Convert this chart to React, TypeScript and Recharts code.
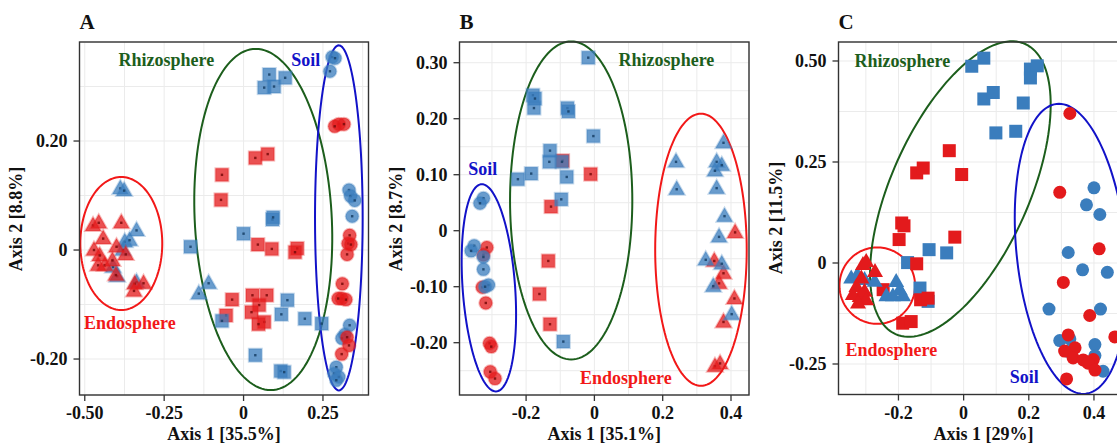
import React from "react";
import {
  ScatterChart, Scatter, XAxis, YAxis, CartesianGrid, ReferenceArea, ReferenceDot
} from "recharts";

type Pt = [number, number];
type Ell = { c: Pt; u: Pt; v: Pt };

// ---- panel A ----
const aRedTri: Pt[] = [[-0.474,0.045],[-0.456,0.050],[-0.385,0.050],[-0.442,0.021],[-0.471,0.000],[-0.453,-0.010],[-0.458,-0.028],[-0.437,-0.028],[-0.413,-0.019],[-0.371,-0.008],[-0.400,0.006],[-0.402,-0.046],[-0.343,-0.062],[-0.315,-0.061],[-0.345,-0.075]];
const aBlueTri: Pt[] = [[-0.388,0.113],[-0.376,0.109],[-0.337,0.036],[-0.374,0.015],[-0.359,0.018],[-0.380,0.000],[-0.411,-0.031],[-0.398,-0.048],[-0.337,-0.059],[-0.110,-0.061],[-0.141,-0.080]];
const aRedSq: Pt[] = [[0.037,0.169],[0.076,0.176],[-0.068,0.138],[-0.071,0.092],[0.045,0.010],[0.089,0.002],[0.169,0.003],[0.162,-0.004],[-0.036,-0.091],[0.028,-0.083],[0.073,-0.083],[0.049,-0.101],[0.025,-0.114],[-0.055,-0.120],[0.065,-0.132],[0.047,-0.136]];
const aBlueSq: Pt[] = [[0.081,0.322],[0.131,0.316],[0.065,0.298],[0.096,0.300],[0.091,0.056],[0.093,0.060],[0.000,0.030],[-0.167,0.006],[0.138,-0.092],[0.119,-0.118],[0.193,-0.126],[0.246,-0.135],[-0.068,-0.130],[0.037,-0.193],[0.117,-0.222],[0.128,-0.224]];
const aRedCirc: Pt[] = [[0.300,0.231],[0.287,0.227],[0.316,0.231],[0.334,0.027],[0.329,0.012],[0.338,0.010],[0.326,-0.008],[0.311,-0.062],[0.309,-0.089],[0.322,-0.091],[0.298,-0.089],[0.326,-0.160],[0.332,-0.175],[0.309,-0.191]];
const aBlueCirc: Pt[] = [[0.279,0.354],[0.288,0.352],[0.272,0.328],[0.332,0.110],[0.337,0.099],[0.350,0.091],[0.342,0.062],[0.334,-0.138],[0.319,-0.155],[0.310,-0.162],[0.292,-0.215],[0.285,-0.227],[0.300,-0.233],[0.292,-0.239]];
const aXTicks = [-0.5, -0.375, -0.25, -0.125, 0, 0.125, 0.25, 0.375];
const aXMajor = [-0.5, -0.25, 0, 0.25];
const aXLabels = ["-0.50", "-0.25", "0", "0.25"];
const aYTicks = [-0.2, -0.1, 0, 0.1, 0.2, 0.3];
const aYMajor = [-0.2, 0, 0.2];
const aYLabels = ["-0.20", "0", "0.20"];

// ---- panel B ----
const bRedSq: Pt[] = [[-0.093,0.125],[-0.011,0.101],[-0.127,0.043],[-0.135,-0.054],[-0.161,-0.113],[-0.130,-0.167]];
const bBlueSq: Pt[] = [[-0.018,0.309],[-0.180,0.242],[-0.174,0.236],[-0.177,0.219],[-0.079,0.219],[-0.076,0.213],[-0.003,0.169],[-0.130,0.143],[-0.132,0.123],[-0.095,0.123],[-0.185,0.102],[-0.224,0.092],[-0.081,0.096],[-0.097,0.056],[-0.091,-0.198]];
const bRedCirc: Pt[] = [[-0.315,-0.030],[-0.325,-0.043],[-0.328,-0.101],[-0.318,-0.129],[-0.307,-0.201],[-0.302,-0.207],[-0.305,-0.252],[-0.291,-0.264]];
const bBlueCirc: Pt[] = [[-0.325,0.058],[-0.335,0.049],[-0.352,-0.027],[-0.361,-0.036],[-0.325,-0.047],[-0.325,-0.069],[-0.310,-0.097],[-0.320,-0.100]];
const bRedTri: Pt[] = [[0.412,-0.003],[0.351,-0.054],[0.378,-0.076],[0.365,-0.094],[0.410,-0.121],[0.378,-0.163],[0.353,-0.242],[0.368,-0.237]];
const bBlueTri: Pt[] = [[0.378,0.157],[0.239,0.123],[0.241,0.074],[0.358,0.123],[0.373,0.117],[0.353,0.107],[0.358,0.076],[0.381,0.026],[0.365,-0.011],[0.326,-0.052],[0.373,-0.059],[0.348,-0.099],[0.402,-0.149]];
const bXTicks = [-0.3, -0.2, -0.1, 0, 0.1, 0.2, 0.3, 0.4];
const bXMajor = [-0.2, 0, 0.2, 0.4];
const bXLabels = ["-0.2", "0", "0.2", "0.4"];
const bYTicks = [-0.25, -0.2, -0.15, -0.1, -0.05, 0, 0.05, 0.1, 0.15, 0.2, 0.25, 0.3];
const bYMajor = [-0.2, -0.1, 0, 0.1, 0.2, 0.3];
const bYLabels = ["-0.20", "-0.10", "0", "0.10", "0.20", "0.30"];

// ---- panel C ----
const cBlueSq: Pt[] = [[0.025,0.487],[0.062,0.507],[0.205,0.480],[0.226,0.488],[0.205,0.458],[0.062,0.406],[0.091,0.422],[0.183,0.396],[0.099,0.322],[0.160,0.326],[-0.106,0.033],[-0.052,0.025],[-0.172,0.001],[-0.134,-0.062],[-0.109,-0.095]];
const cRedSq: Pt[] = [[-0.044,0.278],[-0.144,0.223],[-0.124,0.235],[-0.006,0.219],[-0.190,0.099],[-0.183,0.092],[-0.198,0.058],[-0.027,0.064],[-0.144,-0.002],[-0.247,-0.066],[-0.132,-0.091],[-0.109,-0.087],[-0.187,-0.149],[-0.161,-0.145]];
const cBlueTri: Pt[] = [[-0.345,-0.037],[-0.326,-0.029],[-0.304,-0.041],[-0.273,-0.045],[-0.237,-0.081],[-0.207,-0.046],[-0.196,-0.066],[-0.217,-0.081],[-0.186,-0.081]];
const cRedTri: Pt[] = [[-0.309,-0.004],[-0.299,0.004],[-0.272,-0.021],[-0.329,-0.058],[-0.319,-0.083],[-0.340,-0.078],[-0.304,-0.070],[-0.299,-0.091],[-0.324,-0.099],[-0.314,-0.037]];
const cBlueCirc: Pt[] = [[0.400,0.186],[0.377,0.144],[0.418,0.120],[0.321,0.026],[0.365,-0.017],[0.441,-0.023],[0.262,-0.114],[0.420,-0.114],[0.295,-0.192],[0.326,-0.188],[0.403,-0.202],[0.321,-0.219],[0.403,-0.229],[0.428,-0.268]];
const cRedCirc: Pt[] = [[0.326,0.370],[0.295,0.175],[0.416,0.035],[0.306,-0.048],[0.387,-0.130],[0.464,-0.183],[0.321,-0.178],[0.342,-0.210],[0.310,-0.218],[0.336,-0.235],[0.367,-0.240],[0.398,-0.239],[0.382,-0.248],[0.403,-0.265],[0.316,-0.287]];
const cXTicks = [-0.3, -0.2, -0.1, 0, 0.1, 0.2, 0.3, 0.4, 0.5];
const cXMajor = [-0.2, 0, 0.2, 0.4];
const cXLabels = ["-0.2", "0", "0.2", "0.4"];
const cYTicks = [-0.25, -0.125, 0, 0.125, 0.25, 0.375, 0.5];
const cYMajor = [-0.25, 0, 0.25, 0.5];
const cYLabels = ["-0.25", "0", "0.25", "0.50"];

// confidence ellipses: centre + two conjugate half-axes (data units)
const aEllipses: Ell[] = [
  { c: [-0.385, 0.012], u: [0, 0.122], v: [0.129, 0] },
  { c: [0.062, 0.056], u: [-0.0235, 0.313], v: [0.216, 0] },
  { c: [0.300, 0.059], u: [0, 0.3165], v: [0.075, 0] },
];
const bEllipses: Ell[] = [
  { c: [-0.309, -0.102], u: [-0.0205, 0.185], v: [0.077, 0] },
  { c: [-0.068, 0.054], u: [0, 0.284], v: [0.179, 0] },
  { c: [0.312, -0.034], u: [0, 0.243], v: [0.134, 0] },
];
const cEllipses: Ell[] = [
  { c: [-0.265, -0.056], u: [0, 0.0946], v: [0.116, 0] },
  { c: [-0.010, 0.183], u: [0.199, 0.359], v: [-0.193, 0.070] },
  { c: [0.330, 0.035], u: [-0.0374, 0.359], v: [0.169, 0] },
];

const aNotes: Pt[] = [[-0.243, 0.348], [0.196, 0.348], [-0.358, -0.134]];
const bNotes: Pt[] = [[0.211, 0.304], [-0.327, 0.110], [0.092, -0.2625]];
const cNotes: Pt[] = [[-0.188, 0.501], [0.186, -0.283], [-0.222, -0.215]];

const BLUE = "#3a7dbd";
const RED = "#e31a1c";
const C_RHIZO = "#1c5e1c";
const C_SOIL = "#1212c8";
const C_ENDO = "#f21818";
const FONT = "'Liberation Serif', 'Times New Roman', serif";

type Kind = "tri" | "sq" | "circ";

function Marker({ cx, cy, kind, color, solid }: any) {
  if (cx == null || cy == null) return null;
  const style = solid
    ? { fill: color, stroke: "none" }
    : { fill: color, fillOpacity: 0.76, stroke: color, strokeOpacity: 0.3, strokeWidth: 2 };
  let shape;
  if (kind === "circ") shape = <circle cx={cx} cy={cy} r={6.5} {...style} />;
  else if (kind === "sq") shape = <rect x={cx - 6.5} y={cy - 6.5} width={13} height={13} {...style} />;
  else shape = <polygon points={`${cx},${cy - 8.5} ${cx - 8},${cy + 5.5} ${cx + 8},${cy + 5.5}`} {...style} />;
  return (
    <g>
      {shape}
      {!solid && (
        <rect x={cx - 1.2} y={cy - 1.2} width={2.4} height={2.4}
          fill={color === BLUE ? "#173f66" : "#7a0a0a"} opacity={0.85} />
      )}
    </g>
  );
}

function ellipseShape(e: Ell, color: string) {
  return (p: any) => {
    const { x, y, width, height } = p;
    const ex = Math.hypot(e.u[0], e.v[0]);
    const ey = Math.hypot(e.u[1], e.v[1]);
    const kx = width / (2 * ex);
    const ky = height / (2 * ey);
    const cx = x + width / 2;
    const cy = y + height / 2;
    let d = "";
    for (let i = 0; i <= 144; i++) {
      const t = (i / 144) * Math.PI * 2;
      const px = cx + (e.u[0] * Math.cos(t) + e.v[0] * Math.sin(t)) * kx;
      const py = cy - (e.u[1] * Math.cos(t) + e.v[1] * Math.sin(t)) * ky;
      d += (i ? "L" : "M") + px.toFixed(2) + "," + py.toFixed(2);
    }
    return <path d={d + "Z"} fill="none" stroke={color} strokeWidth={2} />;
  };
}

const makeTick = (majors: number[], labels: string[], axis: "x" | "y") => (p: any) => {
  const v = p.payload.value;
  const i = majors.findIndex((m) => Math.abs(m - v) < 1e-9);
  if (i < 0) return <g />;
  const txt = { fontFamily: FONT, fontWeight: 700, fontSize: 18, fill: "#111" };
  if (axis === "x") {
    return (
      <g>
        <line x1={p.x} x2={p.x} y1={p.y - 12} y2={p.y - 6} stroke="#333" strokeWidth={1.3} />
        <text x={p.x} y={p.y + 12} textAnchor="middle" {...txt}>{labels[i]}</text>
      </g>
    );
  }
  return (
    <g>
      <line x1={p.x + 6} x2={p.x + 12} y1={p.y} y2={p.y} stroke="#333" strokeWidth={1.3} />
      <text x={p.x} y={p.y + 6} textAnchor="end" {...txt}>{labels[i]}</text>
    </g>
  );
};

const noteShape = (text: string, color: string) => (p: any) => (
  <text x={p.cx} y={p.cy} dy={6} textAnchor="middle" fontFamily={FONT} fontWeight={700}
    fontSize={18} fill={color}>{text}</text>
);

interface PanelProps {
  letter: string;
  left: number;
  yAxisW: number;
  rightM: number;
  bottomH: number;
  xDomain: [number, number];
  yDomain: [number, number];
  xTicks: number[]; xMajor: number[]; xLabels: string[];
  yTicks: number[]; yMajor: number[]; yLabels: string[];
  xTitle: string; yTitle: string;
  series: { data: Pt[]; kind: Kind; color: string }[];
  ellipses: Ell[];
  ellColors: string[];
  notes: Pt[];
  noteTexts: string[];
  noteColors: string[];
  solid: boolean;
}

function Panel(P: PanelProps) {
  const W = 380, H = 444;
  const plotW = W - P.yAxisW - P.rightM;
  const txt: React.CSSProperties = {
    position: "absolute", fontFamily: FONT, fontWeight: 700, color: "#111",
    whiteSpace: "nowrap", lineHeight: 1,
  };
  return (
    <div style={{ position: "absolute", left: P.left, top: 0, width: W, height: H }}>
      <ScatterChart width={W} height={H}
        margin={{ top: 42, right: P.rightM, bottom: 0, left: 0 }}>
        <CartesianGrid stroke="#ebebeb" strokeWidth={1} />
        <XAxis type="number" dataKey="x" domain={P.xDomain} allowDataOverflow
          ticks={P.xTicks} interval={0} height={P.bottomH} axisLine={false}
          tickLine={false} tickSize={6} tickMargin={6}
          tick={makeTick(P.xMajor, P.xLabels, "x")} />
        <YAxis type="number" dataKey="y" domain={P.yDomain} allowDataOverflow
          ticks={P.yTicks} interval={0} width={P.yAxisW} axisLine={false}
          tickLine={false} tickSize={6} tickMargin={6}
          tick={makeTick(P.yMajor, P.yLabels, "y")} />
        {P.series.map((s, i) => (
          <Scatter key={i} data={s.data.map(([x, y]) => ({ x, y }))} isAnimationActive={false}
            shape={(p: any) => <Marker cx={p.cx} cy={p.cy} kind={s.kind} color={s.color} solid={P.solid} />} />
        ))}
        {P.ellipses.map((e, i) => {
          const ex = Math.hypot(e.u[0], e.v[0]);
          const ey = Math.hypot(e.u[1], e.v[1]);
          return (
            <ReferenceArea key={"e" + i} x1={e.c[0] - ex} x2={e.c[0] + ex}
              y1={e.c[1] - ey} y2={e.c[1] + ey} ifOverflow="visible"
              shape={ellipseShape(e, P.ellColors[i])} />
          );
        })}
        <ReferenceArea x1={P.xDomain[0]} x2={P.xDomain[1]} y1={P.yDomain[0]} y2={P.yDomain[1]}
          ifOverflow="visible"
          shape={(p: any) => (
            <rect x={p.x} y={p.y} width={p.width} height={p.height} fill="none"
              stroke="#333" strokeWidth={1.4} />
          )} />
        {P.notes.map((n, i) => (
          <ReferenceDot key={"n" + i} x={n[0]} y={n[1]} ifOverflow="visible"
            shape={noteShape(P.noteTexts[i], P.noteColors[i])} />
        ))}
      </ScatterChart>
      <div style={{ ...txt, left: P.yAxisW, top: 12, fontSize: 21 }}>{P.letter}</div>
      <div style={{ ...txt, left: P.yAxisW + plotW / 2, top: 434, fontSize: 18,
        transform: "translate(-50%, -50%)" }}>{P.xTitle}</div>
      <div style={{ ...txt, left: 16, top: 42 + (H - 42 - P.bottomH) / 2, fontSize: 18,
        transform: "translate(-50%, -50%) rotate(-90deg)" }}>{P.yTitle}</div>
    </div>
  );
}

export default function App() {
  const notesText = ["Rhizosphere", "Soil", "Endosphere"];
  const notesCol = [C_RHIZO, C_SOIL, C_ENDO];
  return (
    <div style={{ position: "fixed", left: 0, top: 0, width: 1117, height: 444,
      overflow: "hidden", background: "#fff" }}>
      <Panel letter="A" left={0} yAxisW={79.5} rightM={11.5} bottomH={49}
        xDomain={[-0.5166, 0.3934]} yDomain={[-0.266, 0.3817]}
        xTicks={aXTicks} xMajor={aXMajor} xLabels={aXLabels}
        yTicks={aYTicks} yMajor={aYMajor} yLabels={aYLabels}
        xTitle="Axis 1 [35.5%]" yTitle="Axis 2 [8.8%]"
        series={[
          { data: aBlueTri, kind: "tri", color: BLUE },
          { data: aRedTri, kind: "tri", color: RED },
          { data: aRedSq, kind: "sq", color: RED },
          { data: aBlueSq, kind: "sq", color: BLUE },
          { data: aBlueCirc, kind: "circ", color: BLUE },
          { data: aRedCirc, kind: "circ", color: RED },
        ]}
        ellipses={aEllipses} ellColors={[C_ENDO, C_RHIZO, C_SOIL]}
        notes={aNotes} noteTexts={notesText} noteColors={notesCol} solid={false} />
      <Panel letter="B" left={380} yAxisW={79.5} rightM={11} bottomH={49}
        xDomain={[-0.395, 0.4527]} yDomain={[-0.2934, 0.337]}
        xTicks={bXTicks} xMajor={bXMajor} xLabels={bXLabels}
        yTicks={bYTicks} yMajor={bYMajor} yLabels={bYLabels}
        xTitle="Axis 1 [35.1%]" yTitle="Axis 2 [8.7%]"
        series={[
          { data: bRedSq, kind: "sq", color: RED },
          { data: bBlueSq, kind: "sq", color: BLUE },
          { data: bRedCirc, kind: "circ", color: RED },
          { data: bBlueCirc, kind: "circ", color: BLUE },
          { data: bRedTri, kind: "tri", color: RED },
          { data: bBlueTri, kind: "tri", color: BLUE },
        ]}
        ellipses={bEllipses} ellColors={[C_SOIL, C_RHIZO, C_ENDO]}
        notes={bNotes} noteTexts={notesText} noteColors={notesCol} solid={false} />
      <Panel letter="C" left={760} yAxisW={78.5} rightM={11.5} bottomH={49.5}
        xDomain={[-0.384, 0.506]} yDomain={[-0.3255, 0.547]}
        xTicks={cXTicks} xMajor={cXMajor} xLabels={cXLabels}
        yTicks={cYTicks} yMajor={cYMajor} yLabels={cYLabels}
        xTitle="Axis 1 [29%]" yTitle="Axis 2 [11.5%]"
        series={[
          { data: cBlueSq, kind: "sq", color: BLUE },
          { data: cRedSq, kind: "sq", color: RED },
          { data: cBlueTri, kind: "tri", color: BLUE },
          { data: cRedTri, kind: "tri", color: RED },
          { data: cBlueCirc, kind: "circ", color: BLUE },
          { data: cRedCirc, kind: "circ", color: RED },
        ]}
        ellipses={cEllipses} ellColors={[C_ENDO, C_RHIZO, C_SOIL]}
        notes={cNotes} noteTexts={notesText} noteColors={notesCol} solid={true} />
    </div>
  );
}
